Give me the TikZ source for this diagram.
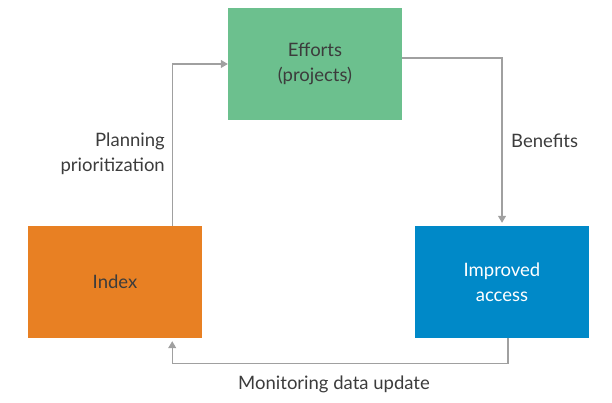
\documentclass[tikz,border=0pt]{standalone}
\usepackage{fontspec}
\setmainfont{Lato}
\usepackage{tikz}
\usetikzlibrary{arrows.meta, positioning}
\definecolor{effortgreen}{RGB}{108,192,142}
\definecolor{indexorange}{RGB}{232,128,35}
\definecolor{accessblue}{RGB}{0,137,200}
\definecolor{flowgray}{RGB}{160,160,160}
\definecolor{textgray}{RGB}{60,60,60}
\tikzstyle{block} = [rectangle, minimum width=174pt, minimum height=112pt, text centered, align=center, font=\fontsize{18.5}{25}\selectfont, inner sep=0pt]
\tikzstyle{flow} = [draw=flowgray, line width=1.2pt, -{Triangle[width=8pt,length=7pt]}]
\tikzstyle{tag} = [text=textgray, font=\fontsize{18.5}{25}\selectfont, inner sep=0pt]

\begin{document}
\begin{tikzpicture}[x=1pt, y=-1pt]
        \useasboundingbox (0,0) rectangle (612,403);

        \node[block, fill=effortgreen, text=textgray] (efforts) at (315,64) {Efforts\\(projects)};
        \node[block, fill=indexorange, text=textgray] (index) at (115,282) {Index};
        \node[block, fill=accessblue, text=white] (access) at (502,282) {Improved\\access};

        \draw[flow] ([xshift=-30pt]index.north east) |- (efforts.west);
        \draw[flow, shorten >=3pt] ([yshift=6pt]efforts.east) -| (access.north);
        \draw[flow, shorten >=3pt] ([xshift=6pt]access.south) -- ++(0,25) -| ([xshift=-30pt]index.south east);

        \node[tag, align=right, anchor=east] (planning) at (165,154) {Planning\\prioritization};
        \node[tag, anchor=west] (benefits) at (511,141) {Benefits};
        \node[tag] (monitoring) at (334,384) {Monitoring data update};

    \end{tikzpicture}
\end{document}
